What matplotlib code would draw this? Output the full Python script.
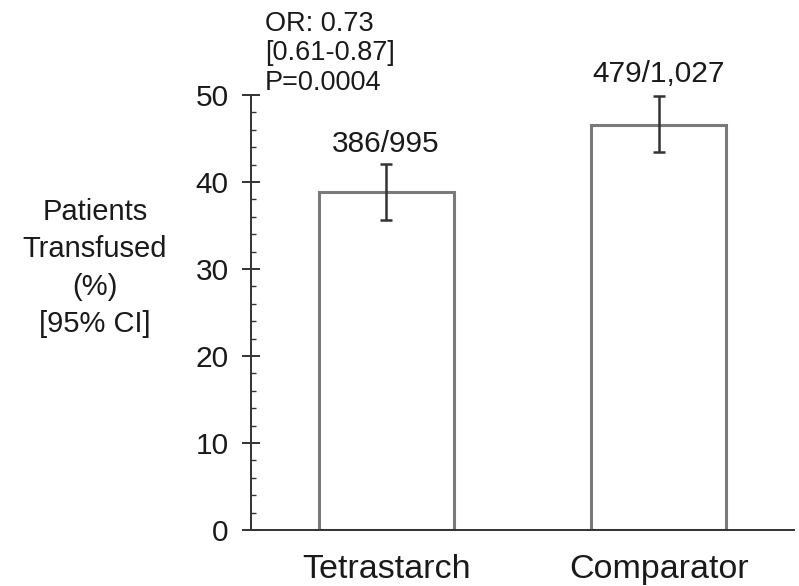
import matplotlib
matplotlib.use("Agg")
import matplotlib.pyplot as plt
from matplotlib.ticker import MultipleLocator

plt.rcParams['font.family'] = ['Liberation Sans', 'DejaVu Sans']

categories = ["Tetrastarch", "Comparator"]
values = [38.8, 46.6]
ci_low = [35.6, 43.4]
ci_high = [42.1, 49.9]
counts = ["386/995", "479/1,027"]
or_text = "OR: 0.73\n[0.61-0.87]\nP=0.0004"
ylabel = "Patients\nTransfused\n(%)\n[95% CI]"
yticks = [0, 10, 20, 30, 40, 50]

W, H = 799, 586
fig = plt.figure(figsize=(W / 100, H / 100), dpi=100)
ax = fig.add_axes([251 / W, 1 - 530 / H, (794 - 251) / W, (530 - 95) / H])

x = list(range(len(categories)))
yerr = [[v - l for v, l in zip(values, ci_low)], [h - v for v, h in zip(values, ci_high)]]
ax.bar(x, values, width=0.495, color='white', edgecolor='#7a7a7a', linewidth=2.2, zorder=2)
ax.errorbar(x, values, yerr=yerr, fmt='none', ecolor='#333333', elinewidth=1.8,
            capsize=4.5, capthick=1.8, zorder=3)

ax.set_xlim(-0.495, 1.495)
ax.set_ylim(0, 50)
ax.set_xticks(x)
ax.set_xticklabels(categories, fontsize=24.5, color='#1a1a1a')
ax.set_yticks(yticks)
ax.set_yticklabels([str(t) for t in yticks], fontsize=21.5, color='#1a1a1a')
ax.yaxis.set_minor_locator(MultipleLocator(2))

for s in ['top', 'right']:
    ax.spines[s].set_visible(False)
ax.spines['left'].set_color('#333333')
ax.spines['left'].set_linewidth(1.4)
ax.spines['bottom'].set_color('#333333')
ax.spines['bottom'].set_linewidth(1.4)

ax.tick_params(axis='y', which='major', direction='inout', length=13, width=1.4,
               color='#333333', pad=9.5)
ax.tick_params(axis='y', which='minor', direction='in', length=3.6, width=1.0,
               color='#333333')
ax.tick_params(axis='x', which='both', length=0, pad=17)

label_y = [44.4, 52.4]
for xi, c, ly in zip(x, counts, label_y):
    ax.text(xi, ly, c, ha='center', va='center', fontsize=21.5, color='#1a1a1a', clip_on=False)

ax.text(-0.443, 54.8, or_text, ha='left', va='center', fontsize=19.5, color='#1a1a1a',
        linespacing=1.17, clip_on=False)

fig.text(95 / W, 1 - 268 / H, ylabel, ha='center', va='center', fontsize=21,
         color='#1a1a1a', multialignment='center', linespacing=1.42)

fig.savefig("out.png", dpi=100)
